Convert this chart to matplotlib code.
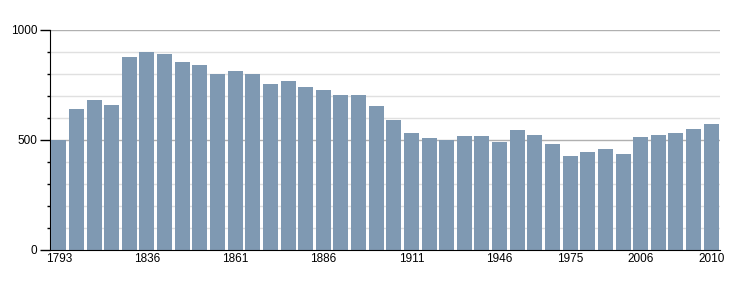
import matplotlib
matplotlib.use('Agg')
import matplotlib.pyplot as plt
import numpy as np

years = [1793, 1800, 1806, 1821, 1831, 1836, 1841, 1846, 1851, 1856,
         1861, 1866, 1872, 1876, 1881, 1886, 1891, 1896, 1901, 1906,
         1911, 1921, 1926, 1931, 1936, 1946, 1954, 1962, 1968, 1975,
         1982, 1990, 1999, 2006, 2007, 2008, 2009, 2010]
population = [500, 641, 682, 659, 877, 900, 891, 855, 841, 800,
              814, 800, 755, 768, 741, 727, 705, 705, 655, 591,
              532, 509, 500, 518, 518, 491, 545, 523, 482, 427,
              445, 459, 436, 514, 523, 532, 550, 573]
shown_years = [1793, 1836, 1861, 1886, 1911, 1946, 1975, 2006, 2010]

plt.rcParams['font.family'] = ['Liberation Sans', 'DejaVu Sans']

fig = plt.figure(figsize=(7.5, 3), dpi=100)
ax = fig.add_axes([50 / 750, 50 / 300, 670 / 750, 220 / 300])

x = np.arange(len(years))
ax.bar(x, population, width=0.85, color='#7f99b2', zorder=3)

ax.set_xlim(-0.5, len(years) - 0.5)
ax.set_ylim(0, 1000)

# grid: light every 100, darker at 500 and 1000
for v in range(100, 1001, 100):
    c = '#b0b0b0' if v % 500 == 0 else '#e0e0e0'
    ax.axhline(v, color=c, lw=1, zorder=1)

ax.set_yticks([0, 500, 1000])
ax.set_yticks(range(0, 1001, 100), minor=True)
ax.tick_params(axis='y', which='major', length=7.5, width=1, labelsize=8.5, pad=1.5)
ax.tick_params(axis='y', which='minor', length=2, width=1)

idx = [years.index(y) for y in shown_years]
ax.set_xticks(idx)
ax.set_xticklabels([str(y) for y in shown_years])
ax.tick_params(axis='x', length=0, labelsize=8.5, pad=2)

for s in ['top', 'right']:
    ax.spines[s].set_visible(False)
ax.spines['left'].set_color('black')
ax.spines['bottom'].set_color('black')
ax.spines['bottom'].set_zorder(4)

fig.savefig('out.png', dpi=100)
